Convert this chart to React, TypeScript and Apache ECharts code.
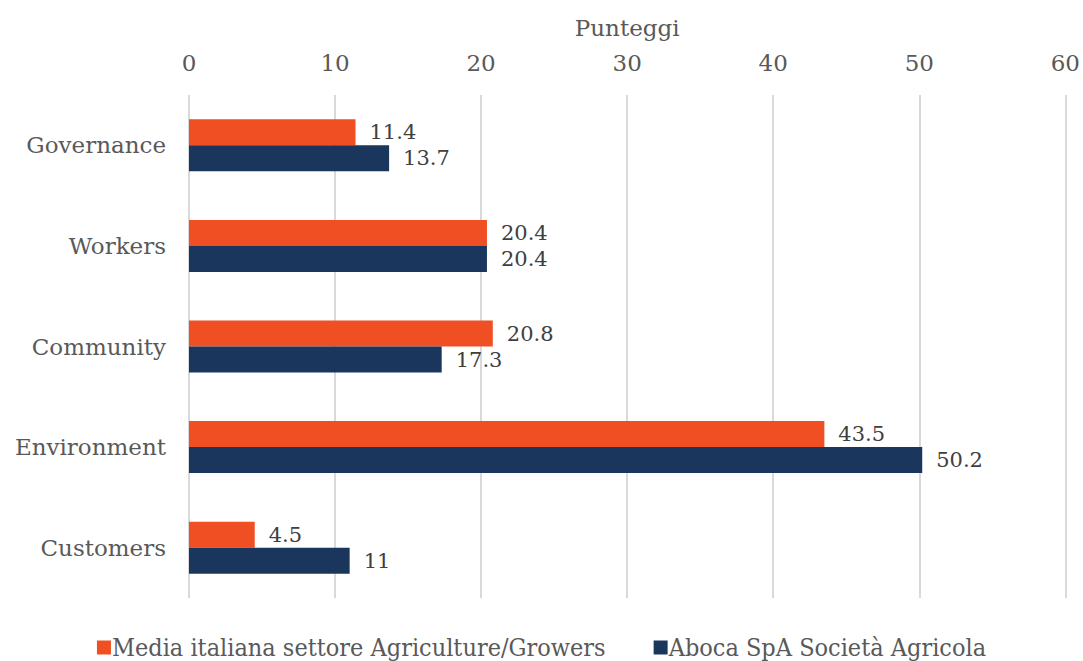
import React, { useEffect, useRef } from "react";
import * as echarts from "echarts";

const categories = ["Governance", "Workers", "Community", "Environment", "Customers"];
const mediaValues = [11.4, 20.4, 20.8, 43.5, 4.5];
const abocaValues = [13.7, 20.4, 17.3, 50.2, 11];
const seriesNames = ["Media italiana settore Agriculture/Growers", "Aboca SpA Società Agricola"];
const axisTitle = "Punteggi";

const FONT = "'DejaVu Serif', serif";
const FONT_C = "'DejaVu Serif Condensed', 'DejaVu Serif', serif";

export default function App() {
  const ref = useRef<HTMLDivElement>(null);
  useEffect(() => {
    const chart = echarts.init(ref.current!, null, { renderer: "svg" });
    const label = {
      show: true,
      position: "right" as const,
      distance: 14,
      color: "#404040",
      fontFamily: FONT,
      fontSize: 21,
    };
    chart.setOption({
      animation: false,
      grid: { left: 189, right: 17, top: 95, bottom: 63, containLabel: false },
      xAxis: {
        type: "value",
        position: "top",
        min: 0,
        max: 60,
        interval: 10,
        name: axisTitle,
        nameLocation: "middle",
        nameGap: 56,
        nameTextStyle: { color: "#595959", fontFamily: FONT, fontSize: 23 },
        axisLine: { show: false },
        axisTick: { show: false },
        axisLabel: { color: "#595959", fontFamily: FONT, fontSize: 23, margin: 21 },
        splitLine: { lineStyle: { color: "#d9d9d9", width: 2 } },
      },
      yAxis: {
        type: "category",
        inverse: true,
        data: categories,
        axisLine: { show: false },
        axisTick: { show: false },
        axisLabel: { color: "#595959", fontFamily: FONT, fontSize: 23, margin: 23 },
      },
      legend: {
        bottom: -4,
        left: "center",
        itemWidth: 14,
        itemHeight: 14,
        itemGap: 48,
        icon: "rect",
        textStyle: { color: "#595959", fontFamily: FONT_C, fontSize: 25, padding: [0, 0, 0, -4] },
        data: seriesNames,
      },
      series: [
        {
          name: seriesNames[0],
          type: "bar",
          data: mediaValues,
          barWidth: 26,
          barGap: "0%",
          itemStyle: { color: "#F04E23" },
          label,
        },
        {
          name: seriesNames[1],
          type: "bar",
          data: abocaValues,
          barWidth: 26,
          barGap: "0%",
          itemStyle: { color: "#1B365D" },
          label,
        },
      ],
    });
    return () => chart.dispose();
  }, []);
  return <div ref={ref} style={{ width: 1083, height: 661, position: "absolute", left: 0, top: 0 }} />;
}
